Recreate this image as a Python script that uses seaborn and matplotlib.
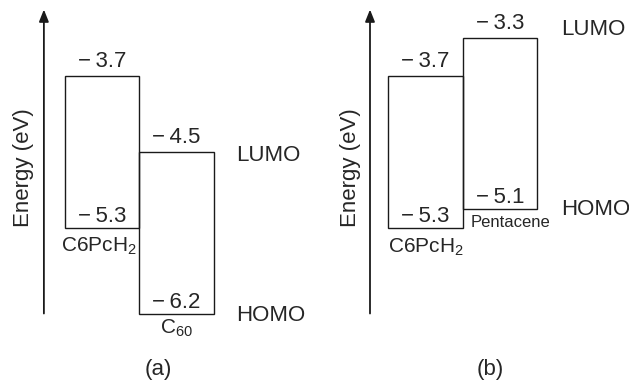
import numpy as np
import pandas as pd
import matplotlib
matplotlib.use("Agg")
import matplotlib.pyplot as plt
import seaborn as sns

# ---- data -------------------------------------------------------------
materials_a = ["C6PcH$_2$", "C$_{60}$"]
lumo_a = [-3.7, -4.5]
homo_a = [-5.3, -6.2]

materials_b = ["C6PcH$_2$", "Pentacene"]
lumo_b = [-3.7, -3.3]
homo_b = [-5.3, -5.1]

panel_labels = ["(a)", "(b)"]
axis_label = "Energy (eV)"
level_tags = ["LUMO", "HOMO"]

# ---- style ------------------------------------------------------------
sns.set_theme(style="white")
plt.rcParams["font.family"] = ["Liberation Sans", "DejaVu Sans"]
plt.rcParams["mathtext.fontset"] = "custom"
plt.rcParams["mathtext.rm"] = "Liberation Sans"
plt.rcParams["mathtext.it"] = "Liberation Sans"
plt.rcParams["mathtext.bf"] = "Liberation Sans"
plt.rcParams["mathtext.default"] = "regular"

LINE = "#1a1a1a"
W, H = 629, 385
PX = 74.5            # pixels per category unit
YLIM = (-6.9526, -2.9)

fig = plt.figure(figsize=(W / 100, H / 100), dpi=100)


def fmt(v):
    return "\u2212\u2009" + f"{abs(v):.1f}"


def draw_panel(left_px, width_px, c0_px, names, lumo, homo, arrow_x, ylab_x,
               tag_x_px, tag_dy, plabel, plabel_x, name_fs, name_dx, name_dy):
    ax = fig.add_axes([left_px / W, 0, width_px / W, 1])
    df = pd.DataFrame({
        "material": names,
        "gap": np.array(lumo) - np.array(homo),
        "homo": homo,
    })
    sns.barplot(data=df, x="material", y="gap", bottom=df["homo"].to_numpy(),
                fill=False, color=LINE, linewidth=1.0, width=1.0,
                errorbar=None, ax=ax)
    for p in ax.patches:
        p.set_edgecolor(LINE)
        p.set_facecolor("none")
        p.set_linewidth(1.0)
    ax.set_xlim(-c0_px / PX, (width_px - c0_px) / PX)
    ax.set_ylim(*YLIM)
    ax.axis("off")

    # energy arrow
    ax.annotate("", xy=(arrow_x, -3.0), xytext=(arrow_x, -6.2),
                arrowprops=dict(arrowstyle="-|>,head_length=0.4,head_width=0.16",
                                mutation_scale=18, lw=1.3, color=LINE,
                                shrinkA=0, shrinkB=0))
    ax.text(ylab_x, 1 - 168 / H, axis_label, rotation=90, fontsize=16,
            ha="center", va="center",
            transform=ax.get_xaxis_transform())

    for i, (n, lu, ho) in enumerate(zip(names, lumo, homo)):
        ax.annotate(fmt(lu), (i, lu), xytext=(0, 9), textcoords="offset pixels",
                    ha="center", va="baseline", fontsize=16)
        ax.annotate(fmt(ho), (i, ho), xytext=(0, 6), textcoords="offset pixels",
                    ha="center", va="baseline", fontsize=16)
        ax.annotate(n, (i, ho), xytext=(name_dx[i], name_dy[i]),
                    textcoords="offset pixels",
                    ha="center", va="baseline", fontsize=name_fs[i])

    # LUMO / HOMO tags next to the right-hand material
    last = len(names) - 1
    for tag, lev, dy in zip(level_tags, [lumo[last], homo[last]], tag_dy):
        ax.annotate(tag, (last + 0.5, lev), xytext=(tag_x_px, dy),
                    textcoords="offset pixels", ha="left", va="center",
                    fontsize=16)

    ax.text(plabel_x, 1 - 369 / H, plabel, fontsize=16, ha="center",
            va="center", transform=ax.transAxes)
    return ax


draw_panel(0, 324, 102, materials_a, lumo_a, homo_a,
           arrow_x=-0.78, ylab_x=-1.06, tag_x_px=22, tag_dy=[-3, -2],
           plabel=panel_labels[0], plabel_x=158 / 324,
           name_fs=[15, 15], name_dx=[-3, 0], name_dy=[-24, -20])
draw_panel(324, 305, 101.5, materials_b, lumo_b, homo_b,
           arrow_x=-0.745, ylab_x=-1.01, tag_x_px=24, tag_dy=[9, 0],
           plabel=panel_labels[1], plabel_x=(490 - 324) / 305,
           name_fs=[15, 12], name_dx=[0, 11], name_dy=[-25, -18])

fig.savefig("out.png", dpi=100)
